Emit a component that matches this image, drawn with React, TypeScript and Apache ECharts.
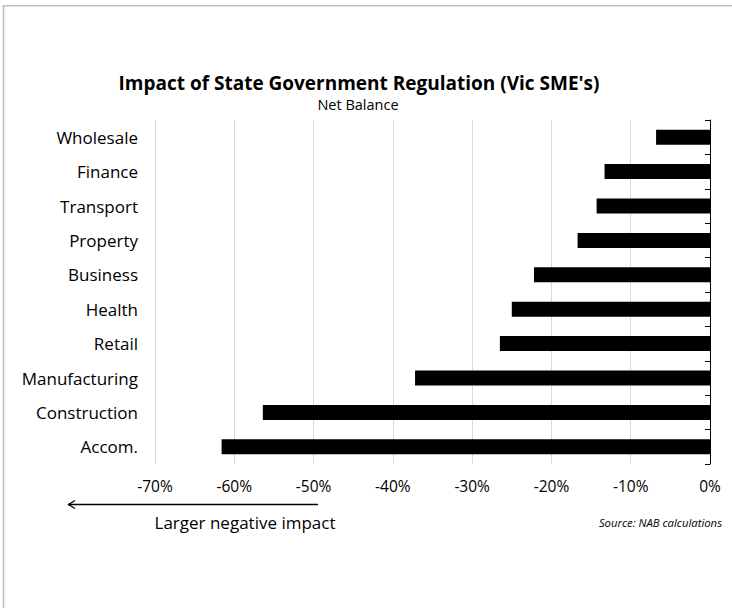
import React, { useEffect, useRef } from "react";
import * as echarts from "echarts";

const categories = [
  "Wholesale",
  "Finance",
  "Transport",
  "Property",
  "Business",
  "Health",
  "Retail",
  "Manufacturing",
  "Construction",
  "Accom.",
];
const netBalance = [-6.8, -13.3, -14.3, -16.7, -22.2, -25.0, -26.5, -37.2, -56.4, -61.6];
const xMin = -70;
const xMax = 0;
const xInterval = 10;

const titleText = "Impact of State Government Regulation (Vic SME's)";
const subtitleText = "Net Balance";
const arrowText = "Larger negative impact";
const sourceText = "Source: NAB calculations";

const FONT = "'Open Sans', 'Noto Sans', sans-serif";

export default function App() {
  const ref = useRef<HTMLDivElement>(null);

  useEffect(() => {
    if (!ref.current) return;
    const chart = echarts.init(ref.current, undefined, { renderer: "svg" });
    chart.setOption({
      animation: false,
      backgroundColor: "#fff",
      textStyle: { fontFamily: FONT },
      title: [
        {
          text: titleText,
          left: 359,
          top: 72,
          textAlign: "center",
          textStyle: { fontFamily: FONT, fontSize: 19, fontWeight: "bold", color: "#000", lineHeight: 22 },
          padding: 0,
        },
        {
          text: subtitleText,
          left: 358,
          top: 96,
          textAlign: "center",
          textStyle: { fontFamily: FONT, fontSize: 14.5, fontWeight: "normal", color: "#000", lineHeight: 16 },
          padding: 0,
        },
      ],
      grid: { left: 155, right: 22, top: 120, bottom: 144, containLabel: false },
      xAxis: {
        type: "value",
        min: xMin,
        max: xMax,
        interval: xInterval,
        axisLine: { show: false },
        axisTick: { show: false },
        splitLine: { show: true, lineStyle: { color: "#d9d9d9", width: 1 } },
        axisLabel: {
          formatter: (v: number) => `${v}%`,
          fontFamily: FONT,
          fontSize: 15.5,
          color: "#000",
          margin: 14,
        },
      },
      yAxis: [
        {
          type: "category",
          data: categories,
          inverse: true,
          position: "left",
          axisLine: { show: false },
          axisTick: { show: false },
          axisLabel: { fontFamily: FONT, fontSize: 17, color: "#000", margin: 17 },
        },
        {
          type: "category",
          data: categories,
          inverse: true,
          position: "right",
          axisLine: { show: true, onZero: false, lineStyle: { color: "#000", width: 1 } },
          axisTick: { show: true, inside: true, length: 5, lineStyle: { color: "#000" } },
          axisLabel: { show: false },
          splitLine: { show: false },
        },
      ],
      series: [
        {
          type: "bar",
          data: netBalance,
          yAxisIndex: 0,
          barWidth: 15,
          itemStyle: { color: "#000" },
        },
      ],
      graphic: [
        {
          type: "rect",
          shape: { x: 3.5, y: 5.8, width: 800, height: 700 },
          style: { fill: "none", stroke: "#bfbfbf", lineWidth: 1.6 },
          silent: true,
        },
        {
          type: "line",
          shape: { x1: 318, y1: 504.5, x2: 68, y2: 504.5 },
          style: { stroke: "#000", lineWidth: 1.3 },
        },
        {
          type: "polyline",
          shape: { points: [[75, 500.5], [68.5, 504.5], [75, 508.5]] },
          style: { stroke: "#000", lineWidth: 1.3, fill: "none" },
        },
        {
          type: "text",
          x: 245,
          y: 522,
          style: {
            text: arrowText,
            font: `17px ${FONT}`,
            fill: "#000",
            textAlign: "center",
            textVerticalAlign: "middle",
          },
        },
        {
          type: "text",
          x: 722,
          y: 522,
          style: {
            text: sourceText,
            font: `italic 11.3px ${FONT}`,
            fill: "#000",
            textAlign: "right",
            textVerticalAlign: "middle",
          },
        },
      ],
    });
    return () => chart.dispose();
  }, []);

  return (
    <div
      ref={ref}
      style={{ position: "absolute", left: 0, top: 0, width: 732, height: 608 }}
    />
  );
}
